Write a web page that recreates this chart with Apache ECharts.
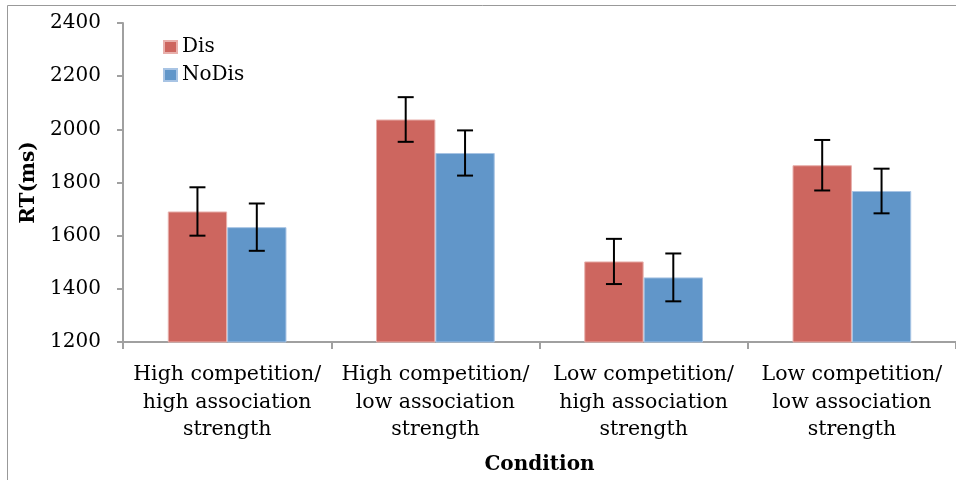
<!DOCTYPE html>
<html><head><meta charset="utf-8">
<script src="https://cdn.jsdelivr.net/npm/echarts@6/dist/echarts.min.js"></script>
<style>html,body{margin:0;padding:0;background:#fff}#c{width:956px;height:480px}</style>
</head><body><div id="c"></div>
<script>
var categories = ['High competition/\nhigh association\nstrength','High competition/\nlow association\nstrength','Low competition/\nhigh association\nstrength','Low competition/\nlow association\nstrength'];
var disValues = [1691, 2037, 1503, 1865];
var disErr = [91, 84, 85, 95];
var noDisValues = [1632, 1911, 1443, 1768];
var noDisErr = [89, 85, 90, 84];
var yTicks = {min:1200, max:2400, interval:200};

var FONT = 'DejaVu Serif';
var BARW = 0.285;

function errSeries(name, vals, errs, side){
  return {
    type:'custom', name: name + ' err', z:10,
    data: vals.map(function(v,i){return [i, v-errs[i], v+errs[i]];}),
    renderItem: function(params, api){
      var i = api.value(0);
      var band = api.size([1,0])[0];
      var lo = api.coord([i, api.value(1)]);
      var hi = api.coord([i, api.value(2)]);
      var x = lo[0] + side*band*BARW/2;
      var cap = 8;
      var st = {stroke:'#000', lineWidth:2, fill:null};
      return {type:'group', children:[
        {type:'line', shape:{x1:x,y1:lo[1],x2:x,y2:hi[1]}, style:st},
        {type:'line', shape:{x1:x-cap,y1:lo[1],x2:x+cap,y2:lo[1]}, style:st},
        {type:'line', shape:{x1:x-cap,y1:hi[1],x2:x+cap,y2:hi[1]}, style:st}
      ]};
    }
  };
}

var chart = echarts.init(document.getElementById('c'));
chart.setOption({
  animation:false,
  textStyle:{fontFamily:FONT},
  graphic:[{type:'rect', shape:{x:7.5,y:5.5,width:1200,height:1200}, style:{fill:null, stroke:'#999', lineWidth:1}, silent:true}],
  grid:{left:123, top:23, right:-1, bottom:133},
  legend:{data:['Dis','NoDis'], orient:'vertical', left:158, top:32, itemWidth:13, itemHeight:12, itemGap:8,
    textStyle:{fontFamily:FONT, fontSize:20, color:'#000'}, icon:'rect'},
  xAxis:{type:'category', data:categories,
    axisLine:{lineStyle:{color:'#A0A0A0', width:2}},
    axisTick:{show:true, length:7, lineStyle:{color:'#A0A0A0', width:2}},
    axisLabel:{color:'#000', fontSize:20.5, lineHeight:27.5, margin:19, interval:0, fontFamily:FONT},
    name:'Condition', nameLocation:'middle', nameGap:113,
    nameTextStyle:{color:'#000', fontSize:20, fontWeight:'bold', fontFamily:FONT}},
  yAxis:{type:'value', min:yTicks.min, max:yTicks.max, interval:yTicks.interval,
    splitLine:{show:false},
    axisLine:{show:true, lineStyle:{color:'#A0A0A0', width:2}},
    axisTick:{show:true, length:6, lineStyle:{color:'#A0A0A0', width:2}},
    axisLabel:{color:'#000', fontSize:20, margin:22, fontFamily:FONT, formatter:function(v){return String(v);}},
    name:'RT(ms)', nameLocation:'middle', nameGap:74, nameRotate:90,
    nameTextStyle:{color:'#000', fontSize:20, fontWeight:'bold', fontFamily:FONT}},
  series:[
    {type:'bar', name:'Dis', data:disValues, barWidth:(BARW*100)+'%', barGap:'0%',
      itemStyle:{color:'#CD665F', borderColor:'#E8B0AC', borderWidth:1}},
    {type:'bar', name:'NoDis', data:noDisValues, barWidth:(BARW*100)+'%', barGap:'0%',
      itemStyle:{color:'#6196C9', borderColor:'#A8C4E4', borderWidth:1}},
    errSeries('Dis', disValues, disErr, -1),
    errSeries('NoDis', noDisValues, noDisErr, 1)
  ]
});
</script></body></html>
